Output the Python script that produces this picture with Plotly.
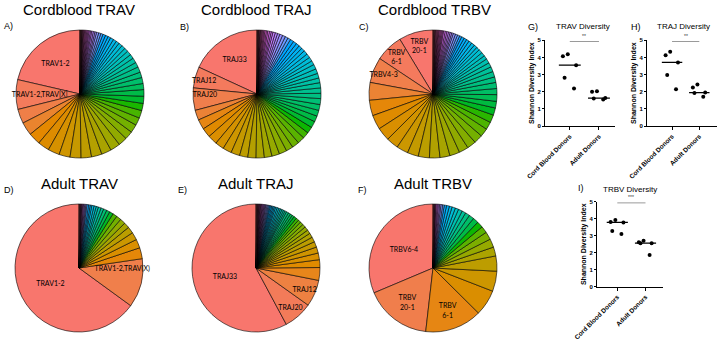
import math
import plotly.graph_objects as go

# ---------------- data ----------------
cb_trav_vals = [77, 27, 13, 12, 11, 10.5, 10.5, 10, 10, 9.5, 9.5, 9, 9, 8, 7.5, 7.5, 7, 7, 6.5, 6.5,
                6, 5.5, 5.5, 5, 5, 4.5, 4.5, 4, 4, 3.5, 3.5, 3.5, 3, 3, 3, 2.5, 2.5, 2.5, 2, 2, 2, 1.5,
                1.5, 1.5, 1.2, 1.2, 1, 1, 1.0, 0.9, 0.8, 0.7, 0.6, 0.5, 0.5, 0.4, 0.4, 0.3]
cb_trav_text = ["TRAV1-2", "TRAV1-2,TRAV[X]"]

cb_traj_vals = [61, 18, 19, 8.5, 8.5, 8, 8, 7.5, 7.5, 7.5, 7, 7, 7, 6.5, 6.5, 6.5, 6, 6, 6, 5.5, 5.5,
                5.5, 5, 5, 5, 5, 4.5, 4.5, 4.5, 4, 4, 4, 4, 3.5, 3.5, 3.5, 3.5, 3, 3, 3, 3, 3, 2.5, 2.5,
                2.5, 2.5, 2, 2, 2, 1.5, 1.5, 1.5, 1.2, 1.2, 1.0, 1.0, 0.8, 0.8, 0.6, 0.6, 0.5, 0.5, 0.4, 0.4]
cb_traj_text = ["TRAJ33", "TRAJ12", "TRAJ20"]

cb_trbv_vals = [31, 25, 23, 16, 14, 13, 12, 11, 10.5, 10, 10, 9.5, 9, 9, 8.5, 8, 8, 7.5, 7, 7, 6.5, 6,
                6, 5.5, 5.5, 5, 5, 4.5, 4, 4, 3.5, 3.5, 3.5, 3, 3, 3, 3, 2.5, 2.5, 2.5, 2, 2, 2, 2, 1.5,
                1.5, 1.5, 1.5, 1.5, 1.5, 1, 1, 1, 1, 0.8, 0.8, 0.8, 0.8, 0.6, 0.6, 0.5, 0.5]
cb_trbv_text = ["TRBV<br>20-1", "TRBV<br>6-1", "TRBV4-3"]

ad_trav_vals = [234, 44.5, 10, 8, 7, 6, 5, 5, 4.5, 4, 3.5, 3, 3, 2.5, 2.5, 2, 2, 2, 1.5, 1.5, 1.5,
                1, 1, 1, 0.8, 0.8, 0.5, 0.5, 0.5, 0.5, 0.5]
ad_trav_text = ["TRAV1-2", "TRAV1-2,TRAV(X)"]

ad_traj_vals = [206, 26, 24, 11.5, 7, 6, 5.5, 5, 4.5, 4, 3.5, 3.5, 3, 3, 2.5, 2.5, 2.5, 2, 2, 2, 2,
                1.5, 1.5, 1.5, 1.5, 1.5, 1.5, 1.5, 1.2, 1.2, 1.2, 1.2, 1, 1, 1, 1, 0.8, 0.8, 0.8, 0.8,
                0.7, 0.7, 0.6, 0.6, 0.5, 0.5, 0.5, 0.5, 0.5, 0.5]
ad_traj_text = ["TRAJ33", "TRAJ20", "TRAJ12"]

ad_trbv_vals = [110.6, 59.4, 50.8, 23, 18, 13.5, 8, 7.5, 7, 6, 5.5, 5, 4.5, 4, 3.5, 3.5, 3, 3, 2.5,
                2.5, 2, 1.5, 1.5, 1.2, 1.2, 1, 1, 0.6, 0.5, 0.5, 0.5, 0.5]
ad_trbv_text = ["TRBV6-4", "TRBV<br>20-1", "TRBV<br>6-1"]

pie_titles = ["Cordblood TRAV", "Cordblood TRAJ", "Cordblood TRBV",
              "Adult TRAV", "Adult TRAJ", "Adult TRBV"]
pie_letters = ["A)", "B)", "C)", "D)", "E)", "F)"]

groups = ["Cord Blood Donors", "Adult Donors"]
trav_cord = [4.19, 4.07, 3.55, 2.81, 2.19]
trav_adult = [2.03, 2.0, 1.63, 1.6, 1.55]
trav_medians = [3.55, 1.63]
traj_cord = [4.33, 4.13, 3.71, 2.98, 2.15]
traj_adult = [2.42, 2.25, 1.95, 1.93, 1.7]
traj_medians = [3.71, 1.95]
trbv_cord = [3.92, 3.8, 3.78, 3.28, 3.1]
trbv_adult = [2.71, 2.61, 2.56, 2.55, 1.86]
trbv_medians = [3.78, 2.56]
div_titles = ["TRAV Diversity", "TRAJ Diversity", "TRBV Diversity"]
div_letters = ["G)", "H)", "I)"]
div_stars = ["**", "**", "***"]
y_ticks = [0, 1, 2, 3, 4, 5]

# ---------------- helpers ----------------
W, H = 720, 340


def hcl_hex(h, c=100.0, l=65.0):
    hr = math.radians(h)
    U, V = c * math.cos(hr), c * math.sin(hr)
    Xn, Yn, Zn = 95.047, 100.0, 108.883
    Y = Yn * ((l + 16) / 116) ** 3
    den = Xn + 15 * Yn + 3 * Zn
    un, vn = 4 * Xn / den, 9 * Yn / den
    u = U / (13 * l) + un
    v = V / (13 * l) + vn
    X = Y * 9 * u / (4 * v)
    Z = Y * (12 - 3 * u - 20 * v) / (4 * v)
    X, Y, Z = X / 100, Y / 100, Z / 100
    r = 3.240479 * X - 1.537150 * Y - 0.498535 * Z
    g = -0.969256 * X + 1.875992 * Y + 0.041556 * Z
    b = 0.055648 * X - 0.204043 * Y + 1.057311 * Z

    def gam(t):
        t = 12.92 * t if t <= 0.0031308 else 1.055 * t ** (1 / 2.4) - 0.055
        return int(round(max(0, min(1, t)) * 255))
    return "#%02x%02x%02x" % (gam(r), gam(g), gam(b))


def hue_colors(n):
    return [hcl_hex(15 + 360.0 * i / n) for i in range(n)]


def dom(cx, cy, r):
    return dict(x=[(cx - r) / W, (cx + r) / W], y=[1 - (cy + r) / H, 1 - (cy - r) / H])


fig = go.Figure()

pies = [
    (cb_trav_vals, cb_trav_text, (80, 94, 64)),
    (cb_traj_vals, cb_traj_text, (257, 94, 64)),
    (cb_trbv_vals, cb_trbv_text, (433, 94, 64)),
    (ad_trav_vals, ad_trav_text, (79, 268, 64)),
    (ad_traj_vals, ad_traj_text, (256, 268, 64)),
    (ad_trbv_vals, ad_trbv_text, (433, 268, 64)),
]
title_pos = [(79, 9), (256, 9), (434, 9), (79, 183), (256, 183), (433, 183)]
letter_pos = [(2, 26), (178, 27), (357, 27), (2, 190), (176, 190), (356, 190)]

for vals, txt, (cx, cy, r) in pies:
    labels = ["s%d" % i for i in range(len(vals))]
    texts = txt + [""] * (len(vals) - len(txt))
    # plotly's counterclockwise mode puts the first slice right of 12 o'clock;
    # rotate so the first slice starts at 12 o'clock and runs to the left
    rot = -360.0 * vals[0] / sum(vals)
    fig.add_trace(go.Pie(
        values=vals, labels=labels, text=texts, textinfo="text",
        textposition="inside", insidetextorientation="horizontal",
        textfont=dict(family="Lato, Liberation Sans, sans-serif", size=7, color="black"),
        sort=False, direction="counterclockwise", rotation=rot,
        marker=dict(colors=hue_colors(len(vals)), line=dict(color="black", width=0.6)),
        domain=dom(cx, cy, r), showlegend=False, hoverinfo="none",
    ))

annots = []
for t, (x, y) in zip(pie_titles, title_pos):
    annots.append(dict(text=t, x=x / W, y=1 - y / H, xref="paper", yref="paper",
                       showarrow=False, xanchor="center", yanchor="middle",
                       font=dict(family="Liberation Sans, Arial", size=15, color="black")))
for t, (x, y) in zip(pie_letters, letter_pos):
    annots.append(dict(text=t, x=x / W, y=1 - y / H, xref="paper", yref="paper",
                       showarrow=False, xanchor="left", yanchor="middle",
                       font=dict(family="Liberation Sans, Arial", size=9, color="black")))

# ---------------- dot plots ----------------
div_sets = [
    (trav_cord, trav_adult, trav_medians),
    (traj_cord, traj_adult, traj_medians),
    (trbv_cord, trbv_adult, trbv_medians),
]
x_domains = [[545 / W, 615 / W], [647 / W, 717 / W], [597 / W, 663 / W]]
y_domains = [[1 - 126 / H, 1 - 40.3 / H], [1 - 126 / H, 1 - 40.3 / H], [1 - 286.7 / H, 1 - 201.7 / H]]
x_ranges = [[-0.85, 1.55], [-0.92, 1.65], [-0.72, 1.62]]
div_title_pos = [(583, 27), (683, 27), (630, 189)]
div_letter_pos = [(526, 27), (629, 27), (576, 188)]

bold_x = dict(family="Liberation Sans, Arial", size=6.5, color="black", weight="bold")
bold7 = dict(family="Liberation Sans, Arial", size=7, color="black", weight="bold")
bold6 = dict(family="Liberation Sans, Arial", size=6, color="black", weight="bold")

for k, (cord, adult, meds) in enumerate(div_sets):
    xa = "x" if k == 0 else "x%d" % (k + 1)
    ya = "y" if k == 0 else "y%d" % (k + 1)
    for g, vals in zip(groups, [cord, adult]):
        fig.add_trace(go.Box(
            x=[g] * len(vals), y=vals, boxpoints="all", jitter=0.7, pointpos=0,
            fillcolor="rgba(0,0,0,0)", line=dict(color="rgba(0,0,0,0)", width=0),
            marker=dict(color="black", size=4), xaxis=xa, yaxis=ya,
            showlegend=False, hoverinfo="skip", width=0.8,
        ))
    fig.add_trace(go.Box(
        x=groups, q1=meds, median=meds, q3=meds, lowerfence=meds, upperfence=meds,
        fillcolor="rgba(0,0,0,0)", line=dict(color="black", width=1.3), whiskerwidth=0,
        width=0.75, xaxis=xa, yaxis=ya, showlegend=False, hoverinfo="skip", boxpoints=False,
    ))
    axis_common = dict(showline=True, linecolor="black", linewidth=1, ticks="outside",
                       ticklen=3, tickwidth=1, tickcolor="black", showgrid=False,
                       zeroline=False, automargin=False)
    fig.layout["xaxis" if k == 0 else "xaxis%d" % (k + 1)] = dict(
        axis_common, domain=x_domains[k], anchor=ya, type="category", tickfont=bold_x,
        categoryorder="array", categoryarray=groups, range=x_ranges[k], tickangle=-45)
    fig.layout["yaxis" if k == 0 else "yaxis%d" % (k + 1)] = dict(
        axis_common, domain=y_domains[k], anchor=xa, range=[0, 5], tickvals=y_ticks,
        tickfont=bold6, ticklen=2,
        title=dict(text="Shannon Diversity Index", font=bold7, standoff=1))
    fig.add_shape(type="line", xref=xa, yref=ya, x0=0, x1=1, y0=4.93, y1=4.93,
                  line=dict(color="#9a9a9a", width=1))
    annots.append(dict(text=div_stars[k], x=0.5, y=4.97, xref=xa, yref=ya, showarrow=False,
                       xanchor="center", yanchor="bottom",
                       font=dict(family="Liberation Sans", size=5, color="#333")))
    tx, ty = div_title_pos[k]
    annots.append(dict(text=div_titles[k], x=tx / W, y=1 - ty / H, xref="paper", yref="paper",
                       showarrow=False, xanchor="center", yanchor="middle",
                       font=dict(family="Liberation Sans, Arial", size=8, color="black")))
    lx, ly = div_letter_pos[k]
    annots.append(dict(text=div_letters[k], x=lx / W, y=1 - ly / H, xref="paper", yref="paper",
                       showarrow=False, xanchor="left", yanchor="middle",
                       font=dict(family="Liberation Sans, Arial", size=9, color="black")))

fig.update_layout(width=W, height=H, margin=dict(l=0, r=0, t=0, b=0, autoexpand=False),
                  paper_bgcolor="white", plot_bgcolor="white", annotations=annots,
                  boxmode="overlay", font=dict(family="Liberation Sans, Arial"),
                  uniformtext=dict(minsize=7, mode="show"))
fig.write_html("out.html", config={"displayModeBar": False},
               post_script="document.body.style.margin='0';document.body.style.overflow='hidden';")
